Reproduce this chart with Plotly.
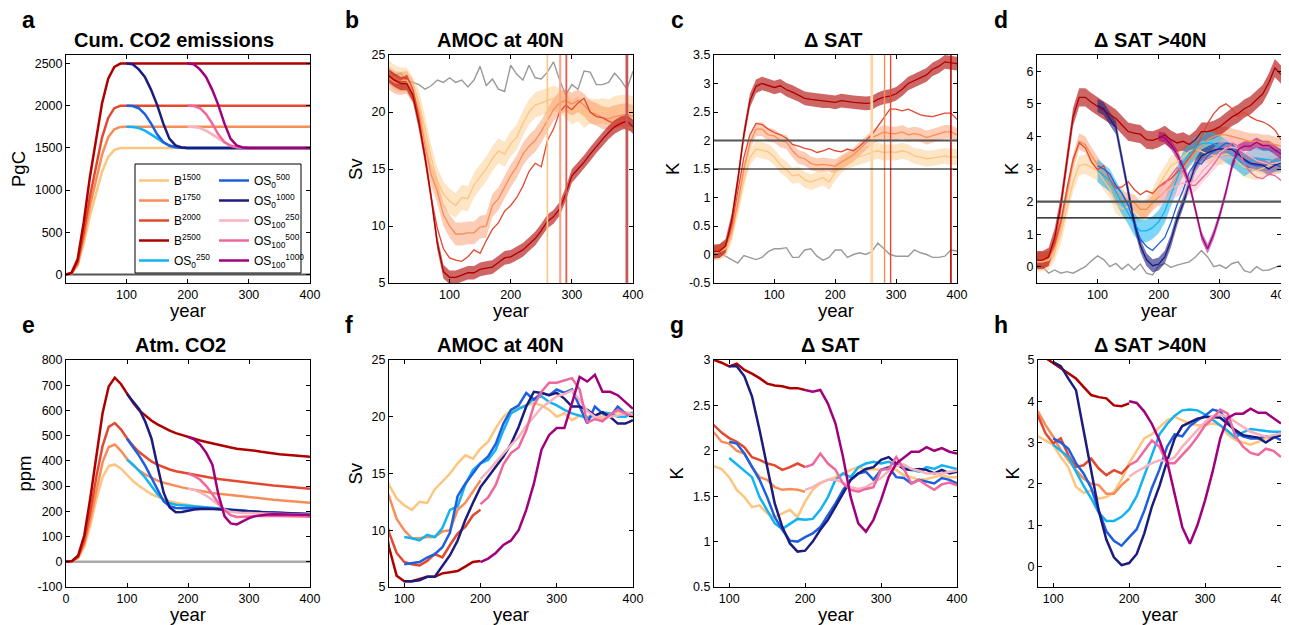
import plotly.graph_objects as go

# figure size in pixels; the page body adds an 8 px margin, so layout
# positions below are given in page pixels and shifted by PAGE_PAD
W, H = 1289, 625
PAGE_PAD = 8

# ---------------------------------------------------------------------------
# data
# ---------------------------------------------------------------------------
YEARS_B = list(range(0, 401, 10))          # baseline runs
YEARS_OS0 = list(range(100, 401, 10))      # overshoot starting at year 100
YEARS_OS100 = list(range(200, 401, 10))    # overshoot starting at year 200
YEARS_CUM_B = [0, 10, 20, 30, 40, 50, 60, 70, 80, 90, 100, 400]
YEARS_CUM_OS0 = [100, 110, 120, 130, 140, 150, 160, 170, 180, 190, 200, 400]
YEARS_CUM_OS100 = [200, 210, 220, 230, 240, 250, 260, 270, 280, 290, 300, 400]
YEARS_FLAT = [0, 400]

# cumulative emissions (PgC)
CUM_CTRL = [0, 0]
CUM_B1500 = [0, 12, 108, 372, 690, 960, 1218, 1392, 1476, 1499, 1500, 1500]
CUM_B1750 = [0, 14, 125, 435, 805, 1120, 1420, 1625, 1720, 1748, 1750, 1750]
CUM_B2000 = [0, 16, 145, 500, 920, 1280, 1625, 1855, 1970, 1998, 2000, 2000]
CUM_B2500 = [0, 20, 180, 620, 1150, 1600, 2030, 2320, 2460, 2498, 2500, 2500]
CUM_OS_250 = [1750, 1748, 1735, 1705, 1660, 1610, 1565, 1530, 1510, 1502, 1500, 1500]
CUM_OS_500 = [2000, 1995, 1970, 1900, 1790, 1660, 1570, 1525, 1508, 1501, 1500, 1500]
CUM_OS_1000 = [2500, 2490, 2430, 2340, 2190, 2010, 1790, 1610, 1530, 1505, 1500, 1500]

# atmospheric CO2 anomaly (ppm)
CO2_CTRL = [0, 0]
CO2_B1500 = [0, 2, 15, 60, 145, 250, 335, 380, 385, 370, 345, 320, 300, 283, 268, 257, 248, 240, 234, 229,
             225, 221, 218, 215, 212, 209, 207, 205, 203, 201, 199, 198, 197, 196, 195, 194, 193, 192, 191, 190, 189]
CO2_B1750 = [0, 2, 18, 72, 170, 290, 395, 455, 465, 440, 408, 382, 362, 346, 333, 322, 313, 306, 300, 295,
             290, 285, 281, 277, 273, 270, 267, 264, 261, 258, 255, 252, 250, 248, 246, 244, 242, 240, 238, 236, 234]
CO2_B2000 = [0, 3, 20, 85, 200, 340, 460, 535, 550, 525, 490, 460, 435, 415, 398, 385, 375, 366, 359, 354,
             350, 345, 340, 336, 332, 328, 325, 321, 318, 315, 312, 309, 306, 304, 302, 300, 298, 296, 294, 292, 290]
CO2_B2500 = [0, 3, 25, 105, 255, 430, 590, 695, 730, 705, 665, 630, 600, 578, 560, 545, 532, 520, 510, 502,
             495, 488, 481, 475, 469, 463, 458, 453, 448, 446, 444, 440, 436, 432, 429, 426, 424, 422, 420, 418, 416]
CO2_OS0_250 = [405, 385, 360, 333, 300, 268, 245, 232, 226, 224, 223, 221, 219, 217, 215, 213, 211, 208, 205, 203,
               200, 198, 197, 195, 194, 193, 192, 191, 190, 189, 188]
CO2_OS0_500 = [488, 455, 420, 380, 333, 283, 240, 220, 213, 212, 213, 213, 213, 212, 211, 209, 207, 205, 203, 201,
               199, 198, 197, 196, 195, 194, 193, 192, 191, 190, 189]
CO2_OS0_1000 = [665, 635, 605, 555, 490, 380, 275, 215, 196, 197, 203, 207, 209, 210, 209, 208, 206, 204, 202, 200,
                198, 197, 196, 195, 194, 193, 192, 191, 190, 189, 188]
CO2_OS100_250 = [290, 285, 275, 262, 245, 225, 207, 198, 194, 193, 193, 192, 191, 190, 190, 189, 188, 188, 187, 187, 186]
CO2_OS100_500 = [350, 340, 325, 300, 268, 232, 205, 185, 178, 178, 180, 181, 182, 182, 182, 182, 181, 181, 180, 180, 179]
CO2_OS100_1000 = [495, 485, 465, 432, 385, 265, 180, 152, 148, 160, 173, 181, 185, 187, 188, 188, 188, 187, 187, 186, 185]

# AMOC at 40N (Sv)
AMOC_CTRL = [23.6, 23.2, 23.4, 22.8, 22.6, 22.4, 22.0, 22.3, 22.8, 22.6, 23.0, 22.6, 22.8, 22.2, 22.8, 24.0, 22.3,
             22.9, 22.0, 21.8, 24.1, 23.3, 22.8, 24.1, 23.0, 22.9, 23.5, 24.4, 22.8, 21.5, 22.4, 22.0, 23.6, 23.5,
             22.4, 22.4, 22.6, 23.4, 22.8, 22.0, 23.6]
AMOC_B1500 = [23.5, 23.0, 22.8, 22.8, 22.0, 20.8, 18.5, 16.0, 14.0, 12.8, 12.2, 11.8, 12.5, 12.4, 13.6, 14.3, 15.0,
              15.9, 16.6, 16.3, 17.2, 17.8, 19.0, 20.0, 20.6, 20.8, 21.0, 21.2, 21.0, 20.6, 20.0, 20.3, 19.7, 20.1,
              20.0, 20.1, 20.0, 20.3, 20.4, 20.4, 20.3]
AMOC_B1750 = [23.0, 22.6, 22.5, 22.6, 21.8, 20.0, 17.0, 14.5, 13.0, 11.0, 10.0, 9.3, 9.3, 9.4, 9.4, 9.9, 10.0,
              11.8, 12.4, 13.4, 14.4, 15.2, 16.3, 17.0, 17.5, 18.3, 19.3, 20.2, 20.8, 21.0, 20.7, 21.0, 20.6, 20.0,
              19.8, 19.5, 19.4, 19.6, 19.7, 19.8, 19.6]
AMOC_B2000 = [23.5, 23.0, 22.8, 23.2, 22.0, 19.5, 16.0, 12.5, 9.8, 8.0, 7.2, 7.0, 6.9, 7.3, 7.9, 7.6, 8.7, 9.7,
              10.3, 11.3, 11.8, 12.5, 13.5, 14.8, 15.5, 15.2, 17.5, 18.5, 20.0, 20.6, 20.2, 20.8, 21.2, 20.0, 19.6,
              19.5, 19.2, 19.0, 19.0, 18.4, 18.5]
AMOC_B2500 = [23.2, 22.8, 22.5, 22.5, 21.5, 19.0, 16.0, 12.5, 8.5, 6.0, 5.5, 5.5, 5.7, 5.9, 5.9, 6.2, 6.3, 6.4,
              6.8, 7.2, 7.3, 7.6, 7.9, 8.4, 8.9, 9.6, 10.4, 10.8, 11.5, 12.8, 14.4, 15.0, 15.6, 16.3, 17.0, 17.6,
              18.2, 18.7, 19.0, 19.2, 18.7]
AMOC_OS0_250 = [9.4, 9.3, 9.1, 9.6, 9.4, 10.2, 11.8, 12.1, 14.0, 15.3, 15.9, 16.2, 17.1, 18.8, 20.3, 20.7, 21.0,
                21.6, 21.8, 21.3, 21.0, 20.6, 20.3, 20.1, 19.9, 20.1, 20.4, 20.3, 20.0, 20.0, 20.4]
AMOC_OS0_500 = [7.0, 7.1, 7.2, 7.6, 7.9, 8.5, 9.8, 13.0, 14.1, 15.0, 15.9, 16.5, 17.6, 19.4, 20.6, 21.0, 22.1,
                21.5, 22.1, 21.9, 22.4, 22.1, 22.4, 20.9, 19.4, 20.9, 20.3, 20.0, 20.9, 20.3, 20.0]
AMOC_OS0_1000 = [5.5, 5.5, 5.6, 5.9, 5.9, 6.8, 7.8, 9.1, 10.9, 12.4, 13.8, 14.7, 15.6, 16.5, 17.6, 19.1, 20.9,
                 22.2, 22.1, 21.9, 22.1, 21.6, 20.9, 20.9, 20.6, 20.1, 20.4, 20.0, 19.4, 19.4, 19.7]
AMOC_OS100_250 = [14.5, 15.2, 16.0, 16.8, 17.5, 18.2, 19.2, 20.0, 20.8, 21.3, 21.8, 22.0, 22.3, 21.5, 20.5, 20.0,
                  19.8, 20.0, 20.1, 20.3, 20.2]
AMOC_OS100_500 = [12.3, 12.9, 14.0, 15.8, 16.8, 17.3, 18.8, 21.0, 22.2, 23.0, 23.0, 23.2, 23.4, 22.4, 19.5, 19.8,
                  19.6, 20.2, 20.6, 20.3, 20.0]
AMOC_OS100_1000 = [7.2, 7.5, 8.0, 8.7, 9.1, 10.0, 11.8, 14.1, 17.1, 18.4, 19.0, 19.0, 21.2, 23.5, 23.1, 23.7,
                   22.2, 22.2, 21.9, 21.3, 20.7]

# global surface air temperature anomaly (K)
SAT_CTRL = [0.09, 0.03, -0.03, -0.09, -0.15, -0.02, -0.05, -0.09, -0.05, 0.05, 0.1, 0.1, 0.12, -0.05, -0.05, 0.08,
            0.1, -0.03, -0.1, -0.05, 0.08, 0.08, -0.05, 0.0, 0.03, 0.0, 0.05, 0.2, 0.1, 0.0, -0.03, -0.03, -0.03,
            0.08, 0.03, 0.0, -0.05, -0.05, -0.03, 0.08, 0.06]
SAT_B1500 = [0.03, 0.05, 0.1, 0.35, 0.8, 1.3, 1.7, 1.85, 1.83, 1.8, 1.71, 1.57, 1.49, 1.38, 1.4, 1.31, 1.27, 1.31,
             1.35, 1.27, 1.44, 1.57, 1.64, 1.68, 1.71, 1.75, 1.79, 1.82, 1.79, 1.8, 1.79, 1.82, 1.79, 1.73, 1.71,
             1.68, 1.69, 1.71, 1.73, 1.71, 1.71]
SAT_B1750 = [0.05, 0.06, 0.12, 0.4, 0.9, 1.5, 1.95, 2.2, 2.2, 2.1, 2.08, 2.0, 1.97, 1.82, 1.71, 1.68, 1.6, 1.57,
             1.58, 1.57, 1.55, 1.62, 1.68, 1.75, 1.85, 1.95, 2.05, 2.1, 2.15, 2.12, 2.12, 2.15, 2.1, 2.12, 2.1,
             2.05, 2.08, 2.12, 2.15, 2.15, 2.1]
SAT_B2000 = [0.05, 0.06, 0.15, 0.5, 1.1, 1.7, 2.1, 2.3, 2.28, 2.2, 2.14, 2.1, 2.04, 1.93, 1.9, 1.86, 1.84, 1.79,
             1.82, 1.86, 1.82, 1.8, 1.85, 1.82, 1.9, 2.0, 2.1, 2.25, 2.4, 2.55, 2.55, 2.52, 2.55, 2.5, 2.45, 2.43,
             2.42, 2.45, 2.48, 2.48, 2.37]
SAT_B2500 = [0.05, 0.06, 0.15, 0.6, 1.3, 2.1, 2.7, 2.95, 3.0, 2.97, 2.93, 2.96, 2.89, 2.85, 2.8, 2.74, 2.72, 2.71,
             2.69, 2.69, 2.67, 2.7, 2.68, 2.67, 2.66, 2.65, 2.66, 2.72, 2.76, 2.78, 2.82, 2.9, 3.0, 3.05, 3.1,
             3.15, 3.25, 3.3, 3.38, 3.37, 3.35]
SAT_OS0_250 = [1.92, 1.85, 1.79, 1.71, 1.49, 1.35, 1.2, 1.14, 1.2, 1.25, 1.24, 1.25, 1.35, 1.49, 1.68, 1.75, 1.71,
               1.82, 1.86, 1.88, 1.86, 1.88, 1.84, 1.82, 1.79, 1.77, 1.82, 1.8, 1.84, 1.82, 1.8]
SAT_OS0_500 = [2.1, 2.08, 1.97, 1.82, 1.68, 1.49, 1.27, 1.13, 1.01, 1.0, 1.05, 1.09, 1.16, 1.29, 1.42, 1.57, 1.68,
               1.75, 1.77, 1.68, 1.79, 1.82, 1.71, 1.7, 1.64, 1.68, 1.66, 1.64, 1.7, 1.68, 1.64]
SAT_OS0_1000 = [2.93, 2.93, 2.82, 2.6, 2.23, 1.82, 1.42, 1.16, 0.98, 0.89, 0.9, 1.0, 1.13, 1.24, 1.38, 1.53, 1.68,
                1.75, 1.8, 1.82, 1.9, 1.93, 1.86, 1.8, 1.79, 1.8, 1.79, 1.75, 1.79, 1.75, 1.77]
SAT_OS100_250 = [1.57, 1.6, 1.65, 1.68, 1.68, 1.65, 1.6, 1.58, 1.6, 1.65, 1.7, 1.78, 1.83, 1.85, 1.8, 1.78, 1.75,
                 1.75, 1.75, 1.77, 1.78]
SAT_OS100_500 = [1.82, 1.85, 1.97, 1.86, 1.79, 1.64, 1.57, 1.55, 1.58, 1.6, 1.79, 1.8, 1.93, 1.8, 1.64, 1.68, 1.62,
                 1.57, 1.63, 1.65, 1.62]
SAT_OS100_1000 = [2.67, 2.65, 2.67, 2.52, 2.3, 1.93, 1.49, 1.2, 1.11, 1.24, 1.46, 1.71, 1.86, 1.93, 1.99, 1.99,
                  2.04, 2.0, 2.03, 1.99, 1.97]

# surface air temperature anomaly north of 40N (K)
SAT40_CTRL = [0.05, 0.0, -0.2, -0.1, -0.2, -0.15, -0.2, -0.1, 0.0, 0.18, 0.33, 0.22, 0.0, 0.1, -0.08, 0.08, -0.1,
              0.08, -0.2, -0.25, 0.02, 0.1, -0.02, 0.05, 0.1, 0.15, 0.3, 0.5, 0.3, 0.0, 0.05, -0.05, 0.1, 0.15,
              -0.12, -0.18, 0.0, -0.12, -0.1, -0.02, 0.05]
SAT40_B1500 = [0.15, 0.15, 0.2, 0.5, 1.0, 1.8, 2.6, 3.1, 3.15, 3.05, 2.94, 2.65, 2.4, 1.93, 1.78, 1.84, 1.64, 1.68,
               1.8, 2.1, 2.5, 2.8, 3.1, 3.2, 3.38, 3.54, 3.62, 3.54, 3.46, 3.42, 3.42, 3.46, 3.42, 3.2, 3.06, 3.0,
               2.95, 3.02, 3.1, 3.14, 3.18]
SAT40_B1750 = [0.2, 0.2, 0.25, 0.6, 1.3, 2.2, 3.2, 3.85, 3.75, 3.42, 3.14, 2.82, 2.57, 2.33, 2.13, 2.0, 1.97, 1.76,
               1.76, 1.97, 2.13, 2.3, 2.5, 2.75, 3.0, 3.3, 3.5, 3.7, 3.9, 4.0, 4.05, 4.05, 4.0, 3.95, 3.9, 3.85,
               3.85, 3.8, 3.8, 3.75, 3.7]
SAT40_B2000 = [0.2, 0.25, 0.3, 0.7, 1.4, 2.4, 3.3, 3.8, 3.65, 3.22, 2.98, 3.1, 2.69, 2.41, 2.45, 2.61, 2.37, 2.21,
               2.33, 2.25, 2.45, 2.6, 2.7, 2.9, 3.1, 3.35, 3.6, 4.0, 4.4, 4.7, 4.9, 5.0, 4.85, 4.6, 4.75, 4.6, 4.5,
               4.45, 4.35, 4.2, 3.9]
SAT40_B2500 = [0.2, 0.2, 0.3, 0.9, 1.9, 3.3, 4.6, 5.2, 5.2, 5.05, 4.92, 4.8, 4.68, 4.55, 4.35, 4.15, 4.1, 4.07,
               3.9, 3.88, 3.95, 4.05, 3.9, 3.8, 3.85, 3.75, 3.9, 4.15, 4.15, 4.2, 4.3, 4.45, 4.6, 4.7, 4.85, 4.95,
               5.13, 5.3, 5.65, 6.1, 5.9]
SAT40_OS0_250 = [2.95, 2.8, 2.65, 2.3, 1.95, 1.65, 1.3, 1.1, 1.1, 1.2, 1.38, 1.7, 2.2, 2.7, 3.2, 3.45, 3.65, 3.78,
                 3.8, 3.78, 3.68, 3.55, 3.42, 3.28, 3.12, 3.25, 3.33, 3.3, 3.28, 3.26, 3.26]
SAT40_OS0_500 = [3.1, 3.0, 2.85, 2.5, 2.25, 1.9, 1.35, 0.85, 0.62, 0.5, 0.7, 0.9, 1.35, 1.9, 2.35, 2.9, 3.2, 3.15,
                 3.4, 3.54, 3.65, 3.8, 3.75, 3.5, 3.25, 3.15, 3.1, 3.1, 3.15, 3.15, 3.06]
SAT40_OS0_1000 = [4.95, 4.85, 4.55, 4.27, 3.3, 2.3, 1.35, 0.65, 0.22, 0.03, 0.08, 0.3, 0.8, 1.45, 1.95, 2.55, 3.1,
                  3.4, 3.5, 3.58, 3.62, 3.62, 3.6, 3.45, 3.3, 3.18, 3.15, 3.12, 3.0, 3.12, 3.18]
SAT40_OS100_250 = [2.17, 2.3, 2.4, 2.5, 2.57, 2.55, 2.65, 2.9, 3.1, 3.3, 3.5, 3.64, 3.68, 3.62, 3.5, 3.38, 3.26,
                   3.2, 3.14, 3.18, 3.22]
SAT40_OS100_500 = [2.45, 2.55, 2.8, 3.05, 2.9, 2.5, 2.5, 2.7, 2.9, 3.14, 3.42, 3.58, 3.8, 3.7, 3.15, 2.9, 2.75,
                   2.7, 2.85, 2.8, 2.65]
SAT40_OS100_1000 = [4.0, 3.96, 3.75, 3.45, 3.05, 2.55, 1.75, 0.95, 0.55, 1.0, 1.6, 2.3, 3.1, 3.6, 3.7, 3.7, 3.82,
                    3.72, 3.72, 3.6, 3.46]

# ensemble spread (half width of the shaded bands)
AMOC_SPREAD = {'B1500': 1.1, 'B1750': 1.0, 'B2500': 0.6}
SAT_SPREAD = {'B1500': 0.14, 'B1750': 0.12, 'B2500': 0.12}
SAT40_SPREAD = {'B1500': 0.3, 'B1750': 0.25, 'B2500': 0.28, 'OS0_250': 0.35, 'OS0_1000': 0.2,
                'OS100_250': 0.35, 'OS100_1000': 0.15}

# AMOC recovery years (vertical lines) and warming thresholds (horizontal lines)
RECOVERY_YEARS = [260, 281, 291, 390]
THRESHOLDS_K = [2.0, 1.5]

# tick values per panel
TICKS_YEAR = [100, 200, 300, 400]
TICKS_YEAR_E = [0, 100, 200, 300, 400]
TICKS_CUM = [0, 500, 1000, 1500, 2000, 2500]
TICKS_AMOC = [5, 10, 15, 20, 25]
TICKS_SAT = [-0.5, 0, 0.5, 1, 1.5, 2, 2.5, 3, 3.5]
TICKS_SAT40 = [0, 1, 2, 3, 4, 5, 6]
TICKS_CO2 = [-100, 0, 100, 200, 300, 400, 500, 600, 700, 800]
TICKS_SAT_G = [0.5, 1, 1.5, 2, 2.5, 3]
TICKS_SAT40_H = [0, 1, 2, 3, 4, 5]

# ---------------------------------------------------------------------------
# styling
# ---------------------------------------------------------------------------
FONT = 'Liberation Sans, Arial, Helvetica, sans-serif'
GREY = '#9a9a9a'
COLORS = {
    'B1500': '#FDC57F', 'B1750': '#F98D58', 'B2000': '#E2492F', 'B2500': '#AF0000',
    'OS0_250': '#12B3F2', 'OS0_500': '#1D5FDF', 'OS0_1000': '#1B1C7E',
    'OS100_250': '#F8B2BE', 'OS100_500': '#F0679C', 'OS100_1000': '#A1007D',
}
LABELS = {
    'B1500': 'B<sup>1500</sup>', 'B1750': 'B<sup>1750</sup>', 'B2000': 'B<sup>2000</sup>',
    'B2500': 'B<sup>2500</sup>',
    'OS0_250': 'OS<sub>0</sub><sup>250</sup>', 'OS0_500': 'OS<sub>0</sub><sup>500</sup>',
    'OS0_1000': 'OS<sub>0</sub><sup>1000</sup>', 'OS100_250': 'OS<sub>100</sub><sup>250</sup>',
    'OS100_500': 'OS<sub>100</sub><sup>500</sup>', 'OS100_1000': 'OS<sub>100</sub><sup>1000</sup>',
}
BASELINES = ['B1500', 'B1750', 'B2000', 'B2500']
OVERSHOOTS = ['OS0_250', 'OS0_500', 'OS0_1000', 'OS100_250', 'OS100_500', 'OS100_1000']

# vertical line styles (colour, width) in panels b and c
VLINE_STYLE_B = [('#FDC57F', 1.6), ('#F6A88C', 2.2), ('#E25C48', 1.8), ('#C85858', 2.8)]
VLINE_STYLE_C = [('#FDD6A6', 2.8), ('#F98D58', 1.4), ('#E2492F', 1.4), ('#AF0000', 1.6)]


def px_x(p):
    """page pixel -> paper x"""
    return (p - PAGE_PAD) / W


def px_y(p):
    """page pixel -> paper y"""
    return 1 - (p - PAGE_PAD) / H


def series_years(key):
    if key.startswith('OS100'):
        return YEARS_OS100
    if key.startswith('OS0'):
        return YEARS_OS0
    return YEARS_B


def collect(prefix):
    g = globals()
    return {k: g[f'{prefix}_{k}'] for k in BASELINES + OVERSHOOTS}


AMOC = collect('AMOC')
SAT = collect('SAT')
SAT40 = collect('SAT40')
CO2 = collect('CO2')


def rgba(hex_color, alpha):
    h = hex_color.lstrip('#')
    r, g, b = int(h[0:2], 16), int(h[2:4], 16), int(h[4:6], 16)
    return f'rgba({r},{g},{b},{alpha})'


def axis_ids(i):
    return ('x' if i == 1 else f'x{i}'), ('y' if i == 1 else f'y{i}')


fig = go.Figure()


def add_line(i, x, y, color, width, **kw):
    xa, ya = axis_ids(i)
    kw.setdefault('showlegend', False)
    fig.add_trace(go.Scatter(x=x, y=y, mode='lines', line=dict(color=color, width=width),
                             xaxis=xa, yaxis=ya, hoverinfo='skip', **kw))


def add_band(i, x, y, spread, color, alpha):
    xa, ya = axis_ids(i)
    upper = [v + spread for v in y]
    lower = [v - spread for v in y]
    fig.add_trace(go.Scatter(x=list(x) + list(x)[::-1], y=upper + lower[::-1], mode='lines',
                             fill='toself', fillcolor=rgba(color, alpha), line=dict(width=0),
                             xaxis=xa, yaxis=ya, hoverinfo='skip', showlegend=False))


# ---------------------------------------------------------------------------
# a: cumulative emissions (carries the legend)
# ---------------------------------------------------------------------------
add_line(1, YEARS_FLAT, CUM_CTRL, '#555555', 2)
cum_b = {'B1500': CUM_B1500, 'B1750': CUM_B1750, 'B2000': CUM_B2000, 'B2500': CUM_B2500}
for k in BASELINES:
    add_line(1, YEARS_CUM_B, cum_b[k], COLORS[k], 2.5, name=LABELS[k], showlegend=True,
             legend='legend', legendgroup=k)
cum_os = [('OS0_250', YEARS_CUM_OS0, CUM_OS_250), ('OS0_500', YEARS_CUM_OS0, CUM_OS_500),
          ('OS0_1000', YEARS_CUM_OS0, CUM_OS_1000), ('OS100_250', YEARS_CUM_OS100, CUM_OS_250),
          ('OS100_500', YEARS_CUM_OS100, CUM_OS_500), ('OS100_1000', YEARS_CUM_OS100, CUM_OS_1000)]
for k, yrs, vals in cum_os:
    leg = 'legend' if k == 'OS0_250' else 'legend2'
    add_line(1, yrs, vals, COLORS[k], 2.5, name=LABELS[k], showlegend=True, legend=leg, legendgroup=k)

# ---------------------------------------------------------------------------
# b, c: AMOC and SAT, baseline ensembles with spread
# ---------------------------------------------------------------------------
for i, data, spread, ctrl in [(2, AMOC, AMOC_SPREAD, AMOC_CTRL), (3, SAT, SAT_SPREAD, SAT_CTRL)]:
    add_line(i, YEARS_B, ctrl, GREY, 1.4)
    for k in ['B1500', 'B1750', 'B2500']:
        add_band(i, YEARS_B, data[k], spread[k], COLORS[k], 0.45 if k != 'B2500' else 0.6)
    for k in BASELINES:
        add_line(i, YEARS_B, data[k], COLORS[k], 1.3)

# ---------------------------------------------------------------------------
# d: SAT >40N, all runs with spread
# ---------------------------------------------------------------------------
add_line(4, YEARS_B, SAT40_CTRL, GREY, 1.4)
band_alpha = {'B1500': 0.45, 'B1750': 0.45, 'B2500': 0.6, 'OS0_250': 0.55, 'OS0_1000': 0.6,
              'OS100_250': 0.45, 'OS100_1000': 0.55}
for k in ['B1500', 'B1750', 'B2500', 'OS0_250', 'OS0_1000', 'OS100_250', 'OS100_1000']:
    add_band(4, series_years(k), SAT40[k], SAT40_SPREAD[k], COLORS[k], band_alpha[k])
for k in BASELINES + OVERSHOOTS:
    add_line(4, series_years(k), SAT40[k], COLORS[k], 1.3)

# ---------------------------------------------------------------------------
# e: atmospheric CO2
# ---------------------------------------------------------------------------
add_line(5, YEARS_FLAT, CO2_CTRL, '#aaaaaa', 2.5)
for k in BASELINES + OVERSHOOTS:
    add_line(5, series_years(k), CO2[k], COLORS[k], 2.5)

# ---------------------------------------------------------------------------
# f, g, h: ensemble means after year 80 (baselines other than B1500 stop at 200)
# ---------------------------------------------------------------------------
cut = YEARS_B.index(200) + 1
for i, data in [(6, AMOC), (7, SAT), (8, SAT40)]:
    for k in BASELINES:
        x, y = YEARS_B, data[k]
        if k != 'B1500':
            x, y = x[:cut], y[:cut]
        add_line(i, x, y, COLORS[k], 2.5)
    for k in OVERSHOOTS:
        add_line(i, series_years(k), data[k], COLORS[k], 2.5)

# ---------------------------------------------------------------------------
# reference lines
# ---------------------------------------------------------------------------
shapes = []
for i, styles in [(2, VLINE_STYLE_B), (3, VLINE_STYLE_C)]:
    xa, ya = axis_ids(i)
    for yr, (col, wd) in zip(RECOVERY_YEARS, styles):
        shapes.append(dict(type='line', xref=xa, yref=f'{ya} domain', x0=yr, x1=yr, y0=0, y1=1,
                           line=dict(color=col, width=wd)))
for i in [3, 4]:
    xa, ya = axis_ids(i)
    for thr, (col, wd) in zip(THRESHOLDS_K, [('#555555', 2.2), ('#000000', 1.2)]):
        shapes.append(dict(type='line', xref=f'{xa} domain', yref=ya, x0=0, x1=1, y0=thr, y1=thr,
                           line=dict(color=col, width=wd)))

# legend frame in panel a
shapes.append(dict(type='rect', xref='paper', yref='paper', x0=px_x(135), x1=px_x(301),
                   y0=px_y(273), y1=px_y(164), line=dict(color='black', width=1),
                   fillcolor='white', layer='above'))

# ---------------------------------------------------------------------------
# axes
# ---------------------------------------------------------------------------
# page-pixel boxes of the panels (left, right, top, bottom)
BOXES = {1: (66, 310, 55, 283), 2: (389, 633, 55, 283), 3: (714, 957, 55, 283), 4: (1037, 1281, 55, 283),
         5: (66, 310, 360, 587), 6: (389, 633, 360, 587), 7: (714, 957, 360, 587), 8: (1038, 1281, 360, 587)}
AXES = {
    1: ([1, 400], TICKS_YEAR, [-100, 2600], TICKS_CUM),
    2: ([1, 400], TICKS_YEAR, [5, 25], TICKS_AMOC),
    3: ([1, 400], TICKS_YEAR, [-0.5, 3.5], TICKS_SAT),
    4: ([1, 400], TICKS_YEAR, [-0.5, 6.5], TICKS_SAT40),
    5: ([0, 400], TICKS_YEAR_E, [-100, 800], TICKS_CO2),
    6: ([80, 400], TICKS_YEAR, [5, 25], TICKS_AMOC),
    7: ([80, 400], TICKS_YEAR, [0.5, 3], TICKS_SAT_G),
    8: ([80, 400], TICKS_YEAR, [-0.5, 5], TICKS_SAT40_H),
}


def axis_style(rng, ticks, dom, anchor):
    return dict(domain=dom, range=rng, anchor=anchor, tickvals=ticks, ticktext=[f'{t:g}' for t in ticks],
                ticks='inside', ticklen=4, tickwidth=1, tickcolor='black', showline=True,
                linecolor='black', linewidth=1, mirror='ticks', showgrid=False, zeroline=False,
                automargin=False, tickfont=dict(size=12.5, color='black', family=FONT), fixedrange=True)


layout_axes = {}
for i, (xr, xt, yr, yt) in AXES.items():
    l, r, t, b = BOXES[i]
    xa, ya = axis_ids(i)
    sfx = '' if i == 1 else str(i)
    layout_axes[f'xaxis{sfx}'] = axis_style(xr, xt, [px_x(l), px_x(r)], ya)
    layout_axes[f'yaxis{sfx}'] = axis_style(yr, yt, [px_y(b), px_y(t)], xa)

# ---------------------------------------------------------------------------
# text: panel letters, titles, axis labels
# ---------------------------------------------------------------------------
PANEL_TEXT = [
    # letter, letter x, title, title x, y-label, y-label x, row
    ('a', 28, 'Cum. CO2 emissions', 174, 'PgC', 18, 0),
    ('b', 352, 'AMOC at 40N', 500, 'Sv', 355, 0),
    ('c', 677, 'Δ SAT', 833, 'K', 672, 0),
    ('d', 1001, 'Δ SAT >40N', 1150, 'K', 1011, 0),
    ('e', 28, 'Atm. CO2', 180, 'ppm', 24, 1),
    ('f', 349, 'AMOC at 40N', 500, 'Sv', 355, 1),
    ('g', 677, 'Δ SAT', 830, 'K', 676, 1),
    ('h', 1001, 'Δ SAT >40N', 1150, 'K', 1012, 1),
]
annotations = []
for idx, (letter, lx, title, tx, ylab, yx, row) in enumerate(PANEL_TEXT, start=1):
    l, r, t, b = BOXES[idx]
    off = 305 if row else 0
    annotations.append(dict(text=f'<b>{letter}</b>', x=px_x(lx), y=px_y(20 + off), xref='paper', yref='paper',
                            showarrow=False, xanchor='center', yanchor='middle',
                            font=dict(size=23, family=FONT, color='black')))
    annotations.append(dict(text=f'<b>{title}</b>', x=px_x(tx), y=px_y(40 + off), xref='paper', yref='paper',
                            showarrow=False, xanchor='center', yanchor='middle',
                            font=dict(size=20, family=FONT, color='black')))
    annotations.append(dict(text=ylab, x=px_x(yx), y=px_y((t + b) / 2), xref='paper', yref='paper',
                            showarrow=False, xanchor='center', yanchor='middle', textangle=-90,
                            font=dict(size=18.5, family=FONT, color='black')))
    annotations.append(dict(text='year', x=px_x((l + r) / 2), y=px_y(b + 27), xref='paper', yref='paper',
                            showarrow=False, xanchor='center', yanchor='middle',
                            font=dict(size=18.5, family=FONT, color='black')))

legend_common = dict(xanchor='left', yanchor='top', bgcolor='rgba(0,0,0,0)', borderwidth=0,
                     font=dict(size=12, family=FONT, color='black'), tracegroupgap=1, itemwidth=30)

fig.update_layout(
    width=W, height=H,
    margin=dict(l=0, r=0, t=0, b=0, autoexpand=False),
    paper_bgcolor='white', plot_bgcolor='white',
    font=dict(family=FONT, color='black'),
    showlegend=True,
    legend=dict(x=px_x(134), y=px_y(166), **legend_common),
    legend2=dict(x=px_x(214), y=px_y(166), **legend_common),
    shapes=shapes,
    annotations=annotations,
    **layout_axes,
)

fig.write_html('out.html')
